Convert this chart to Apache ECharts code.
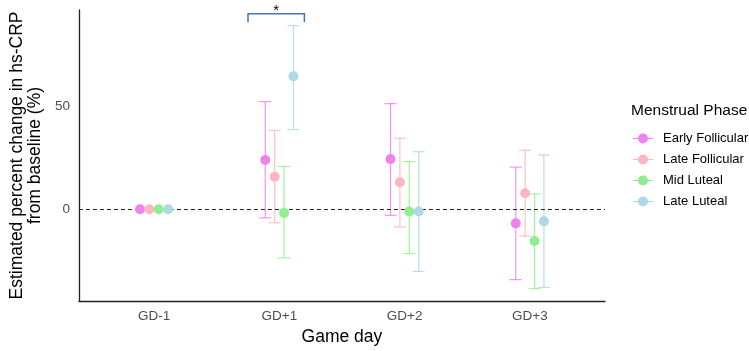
<!DOCTYPE html>
<html>
<head>
<meta charset="utf-8">
<script src="https://cdn.jsdelivr.net/npm/echarts@6/dist/echarts.min.js"></script>
<style>
  html, body { margin: 0; padding: 0; background: #fff; }
  #chart { width: 749px; height: 351px; }
</style>
</head>
<body>
<div id="chart"></div>
<script>
// game days on the x axis, phases as dodged groups
const days = ['GD-1', 'GD+1', 'GD+2', 'GD+3'];
const phases = ['Early Follicular', 'Late Follicular', 'Mid Luteal', 'Late Luteal'];
const phaseColors = ['#EE82EE', '#FFB6C1', '#90EE90', '#ADD8E6'];
const dodge = [-0.1125, -0.0375, 0.0375, 0.1125];

// estimated % change, with lower / upper CI
const earlyFollicular = [0, 24.0, 24.4, -6.9];
const earlyFollicularLow = [null, -4.2, -3.0, -34.3];
const earlyFollicularHigh = [null, 52.4, 51.4, 20.5];

const lateFollicular = [0, 15.8, 13.1, 7.8];
const lateFollicularLow = [null, -6.6, -8.7, -13.1];
const lateFollicularHigh = [null, 38.4, 34.6, 28.7];

const midLuteal = [0, -1.8, -1.1, -15.5];
const midLutealLow = [null, -23.7, -21.6, -38.6];
const midLutealHigh = [null, 20.8, 23.2, 7.4];

const lateLuteal = [0, 64.7, -1.1, -5.9];
const lateLutealLow = [null, 38.8, -30.3, -38.1];
const lateLutealHigh = [null, 89.4, 28.0, 26.4];

const yTicks = [0, 50];

// significance bracket above GD+1
const bracketX = [1.75, 2.2];
const bracketY = [91, 95.2];
const bracketLabel = '*';

const estimates = [earlyFollicular, lateFollicular, midLuteal, lateLuteal];
const lows = [earlyFollicularLow, lateFollicularLow, midLutealLow, lateLutealLow];
const highs = [earlyFollicularHigh, lateFollicularHigh, midLutealHigh, lateLutealHigh];

const font = 'Liberation Sans, Arial, sans-serif';
const chart = echarts.init(document.getElementById('chart'));

let series = [];
phases.forEach((name, i) => {
  let pts = [];
  let bars = [];
  days.forEach((d, j) => {
    let x = j + 1 + dodge[i];
    pts.push([x, estimates[i][j]]);
    if (lows[i][j] !== null) bars.push([x, lows[i][j], highs[i][j]]);
  });
  let color = phaseColors[i];
  series.push({
    name: name,
    type: 'custom',
    data: bars,
    encode: { x: 0, y: [1, 2] },
    z: 2,
    renderItem: function (params, api) {
      let x = api.value(0);
      let top = api.coord([x, api.value(2)]);
      let bot = api.coord([x, api.value(1)]);
      let cap = 6;
      let style = { stroke: color, lineWidth: 1.2, opacity: 0.85 };
      return {
        type: 'group',
        children: [
          { type: 'line', shape: { x1: top[0], y1: top[1], x2: bot[0], y2: bot[1] }, style: style },
          { type: 'line', shape: { x1: top[0] - cap, y1: top[1], x2: top[0] + cap, y2: top[1] }, style: style },
          { type: 'line', shape: { x1: bot[0] - cap, y1: bot[1], x2: bot[0] + cap, y2: bot[1] }, style: style }
        ]
      };
    }
  });
  series.push({
    name: name,
    type: 'scatter',
    data: pts,
    symbol: 'circle',
    symbolSize: 10,
    z: 5,
    itemStyle: { color: color, opacity: 1 },
    markLine: i === 0 ? {
      silent: true,
      symbol: 'none',
      label: { show: false },
      lineStyle: { color: '#222', type: [4, 3], width: 1 },
      data: [{ yAxis: 0 }]
    } : undefined
  });
});

// bracket + star
series.push({
  type: 'custom',
  silent: true,
  clip: false,
  data: [[bracketX[0], bracketX[1], bracketY[0], bracketY[1]]],
  renderItem: function (params, api) {
    let a = api.coord([api.value(0), api.value(3)]);
    let b = api.coord([api.value(1), api.value(3)]);
    let legL = api.coord([api.value(0), api.value(2)]);
    let legR = api.coord([api.value(1), api.value(2)]);
    let style = { stroke: '#4472C4', lineWidth: 1.5, fill: 'none' };
    return {
      type: 'group',
      children: [
        { type: 'polyline', shape: { points: [legL, a, b, legR] }, style: style },
        { type: 'text', x: (a[0] + b[0]) / 2, y: a[1] - 3,
          style: { text: bracketLabel, fill: '#000', font: '15px ' + font, align: 'center', verticalAlign: 'middle' } }
      ]
    };
  }
});

const legendIcon = 'path://M0,4.5h5v1h-5z M15,4.5h5v1h-5z M5,5a5,5 0 1,0 10,0a5,5 0 1,0 -10,0z';

chart.setOption({
  animation: false,
  textStyle: { fontFamily: font },
  title: {
    text: 'Menstrual Phase',
    left: 631,
    top: 103,
    padding: 0,
    textStyle: { fontSize: 15.5, fontWeight: 'normal', color: '#000', fontFamily: font }
  },
  legend: {
    orient: 'vertical',
    left: 633,
    top: 132,
    padding: 0,
    itemWidth: 20,
    itemHeight: 10,
    itemGap: 8,
    data: phases.map((p, i) => ({ name: p, icon: legendIcon, itemStyle: { color: phaseColors[i] } })),
    textStyle: { fontSize: 13, color: '#000', fontFamily: font, padding: [0, 0, 0, 5] }
  },
  grid: { left: 65, right: 144, top: 10, bottom: 46 },
  xAxis: {
    type: 'value',
    min: 0.4,
    max: 4.6,
    name: 'Game day',
    nameLocation: 'middle',
    nameGap: 27,
    nameTextStyle: { fontSize: 17.5, color: '#000' },
    axisLine: { onZero: false, lineStyle: { color: '#222', width: 1.3 } },
    axisTick: { show: false },
    splitLine: { show: false },
    axisLabel: {
      customValues: [1, 2, 3, 4],
      formatter: v => days[Math.round(v) - 1],
      fontSize: 13.5,
      color: '#4D4D4D',
      margin: 8
    }
  },
  yAxis: {
    type: 'value',
    min: -44.7,
    max: 97,
    name: 'Estimated percent change in hs-CRP\nfrom baseline (%)',
    nameLocation: 'middle',
    nameRotate: 90,
    nameGap: 23,
    nameTextStyle: { fontSize: 17.5, color: '#000', lineHeight: 18 },
    axisLine: { show: true, onZero: false, lineStyle: { color: '#222', width: 1.3 } },
    axisTick: { show: false },
    splitLine: { show: false },
    axisLabel: {
      customValues: yTicks,
      fontSize: 13.5,
      color: '#4D4D4D',
      margin: 9
    }
  },
  series: series
});
</script>
</body>
</html>
